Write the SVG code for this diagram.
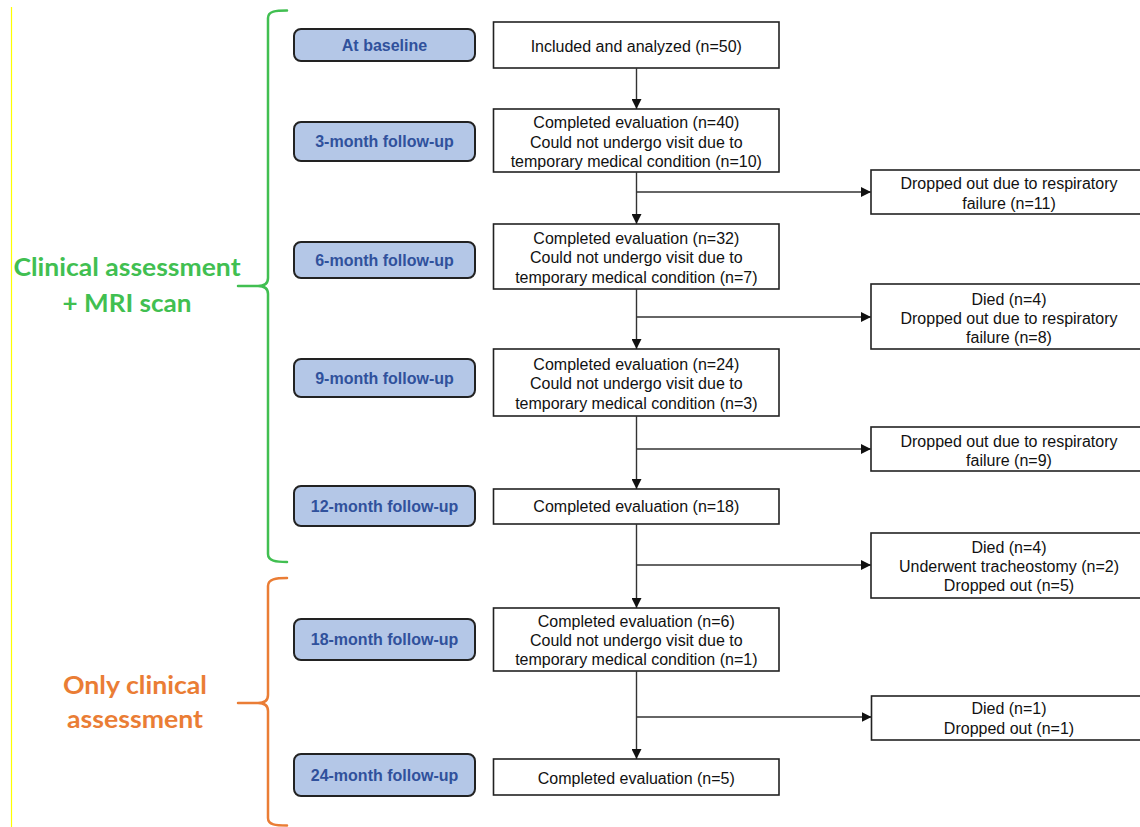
<svg xmlns="http://www.w3.org/2000/svg" width="1140" height="827" viewBox="0 0 1140 827">
<style>
.bg{fill:#ffffff}
.box{fill:#ffffff;stroke:#222;stroke-width:1.6}
.t{font-family:"Liberation Sans",Arial,sans-serif;font-size:16px;fill:#111;text-anchor:middle}
.pill{fill:#b4c7e7;stroke:#222;stroke-width:2}
.pt{font-family:"Liberation Sans",Arial,sans-serif;font-size:16px;font-weight:bold;fill:#30519c;text-anchor:middle}
.ln{stroke:#333;stroke-width:1.4;fill:none}
.brace{fill:none;stroke-width:2.5;stroke-linecap:round}
.lab{font-family:Lato,"Open Sans",sans-serif;font-weight:bold;font-size:25px;text-anchor:middle}
</style>
<defs>
<marker id="ah" viewBox="0 0 10 10" refX="10" refY="5" markerWidth="10" markerHeight="10" markerUnits="userSpaceOnUse" orient="auto">
<path d="M0,0 L10,5 L0,10 Z" fill="#111"/>
</marker>
</defs>
<rect class="bg" x="0" y="0" width="1140" height="827"/>
<line x1="11.5" y1="7" x2="11.5" y2="827" stroke="#ffff00" stroke-width="1.2"/>

<g id="brace-mri">
<path class="brace" stroke="#41bf51" d="M287,10.5 C276,10.5 268,11 268,18 L268,278 C268,284 264,286 258,286 L238,286 M258,286 C264,286 268,288 268,294 L268,554 C268,561 276,562 287,562"/>
<text class="lab" fill="#41bf51" x="127" y="276" textLength="227" lengthAdjust="spacingAndGlyphs">Clinical assessment</text>
<text class="lab" fill="#41bf51" x="127" y="312" textLength="129" lengthAdjust="spacingAndGlyphs">+ MRI scan</text>
</g>
<g id="brace-clin">
<path class="brace" stroke="#ea7d35" d="M287,578 C276,578 268,579 268,586 L268,695 C268,701 264,703 258,703 L238,703 M258,703 C264,703 268,705 268,711 L268,818 C268,825 276,825.5 287,825.5"/>
<text class="lab" fill="#ea7d35" x="135" y="694" textLength="144" lengthAdjust="spacingAndGlyphs">Only clinical</text>
<text class="lab" fill="#ea7d35" x="135" y="728" textLength="136" lengthAdjust="spacingAndGlyphs">assessment</text>
</g>

<g id="tp-baseline"><rect class="pill" x="294" y="29" width="181" height="32" rx="7"/><text class="pt" x="384.5" y="51">At baseline</text></g>
<g id="tp-3"><rect class="pill" x="294" y="122" width="181" height="39" rx="7"/><text class="pt" x="384.5" y="147">3-month follow-up</text></g>
<g id="tp-6"><rect class="pill" x="294" y="242" width="181" height="36" rx="7"/><text class="pt" x="384.5" y="266">6-month follow-up</text></g>
<g id="tp-9"><rect class="pill" x="294" y="359" width="181" height="38" rx="7"/><text class="pt" x="384.5" y="384">9-month follow-up</text></g>
<g id="tp-12"><rect class="pill" x="294" y="486" width="181" height="40" rx="7"/><text class="pt" x="384.5" y="512">12-month follow-up</text></g>
<g id="tp-18"><rect class="pill" x="294" y="619" width="181" height="41" rx="7"/><text class="pt" x="384.5" y="645">18-month follow-up</text></g>
<g id="tp-24"><rect class="pill" x="294" y="754" width="181" height="42" rx="7"/><text class="pt" x="384.5" y="781">24-month follow-up</text></g>

<g id="n-baseline"><rect class="box" x="493.5" y="22" width="285.5" height="46"/><text class="t" x="636.3" y="51.5">Included and analyzed (n=50)</text></g>
<g id="n-3"><rect class="box" x="493.5" y="109" width="285.5" height="63"/>
<text class="t" x="636.3" y="128">Completed evaluation (n=40)</text>
<text class="t" x="636.3" y="147.5">Could not undergo visit due to</text>
<text class="t" x="636.3" y="167">temporary medical condition (n=10)</text></g>
<g id="n-6"><rect class="box" x="493.5" y="224" width="285.5" height="65"/>
<text class="t" x="636.3" y="243.5">Completed evaluation (n=32)</text>
<text class="t" x="636.3" y="263">Could not undergo visit due to</text>
<text class="t" x="636.3" y="282.5">temporary medical condition (n=7)</text></g>
<g id="n-9"><rect class="box" x="493.5" y="349" width="285.5" height="67"/>
<text class="t" x="636.3" y="369.5">Completed evaluation (n=24)</text>
<text class="t" x="636.3" y="389">Could not undergo visit due to</text>
<text class="t" x="636.3" y="408.5">temporary medical condition (n=3)</text></g>
<g id="n-12"><rect class="box" x="493.5" y="489" width="285.5" height="35"/>
<text class="t" x="636.3" y="511.5">Completed evaluation (n=18)</text></g>
<g id="n-18"><rect class="box" x="493.5" y="608" width="285.5" height="63"/>
<text class="t" x="636.3" y="626.5">Completed evaluation (n=6)</text>
<text class="t" x="636.3" y="646">Could not undergo visit due to</text>
<text class="t" x="636.3" y="665">temporary medical condition (n=1)</text></g>
<g id="n-24"><rect class="box" x="493.5" y="759" width="285.5" height="36"/>
<text class="t" x="636.3" y="783.5">Completed evaluation (n=5)</text></g>

<g id="x-3"><rect class="box" x="871" y="170" width="280" height="44"/>
<text class="t" x="1009" y="188.5">Dropped out due to respiratory</text>
<text class="t" x="1009" y="208.5">failure (n=11)</text></g>
<g id="x-6"><rect class="box" x="871" y="284" width="280" height="65"/>
<text class="t" x="1009" y="304.5">Died (n=4)</text>
<text class="t" x="1009" y="323.5">Dropped out due to respiratory</text>
<text class="t" x="1009" y="342.5">failure (n=8)</text></g>
<g id="x-9"><rect class="box" x="871" y="427" width="280" height="44"/>
<text class="t" x="1009" y="446.5">Dropped out due to respiratory</text>
<text class="t" x="1009" y="465.5">failure (n=9)</text></g>
<g id="x-12"><rect class="box" x="871" y="533" width="280" height="65"/>
<text class="t" x="1009" y="552.5">Died (n=4)</text>
<text class="t" x="1009" y="571.5">Underwent tracheostomy (n=2)</text>
<text class="t" x="1009" y="590.5">Dropped out (n=5)</text></g>
<g id="x-18"><rect class="box" x="871.5" y="696" width="280" height="44"/>
<text class="t" x="1009" y="713.5">Died (n=1)</text>
<text class="t" x="1009" y="733.5">Dropped out (n=1)</text></g>

<g id="connectors">
<line class="ln" x1="636.5" y1="68" x2="636.5" y2="109" marker-end="url(#ah)"/>
<line class="ln" x1="636.5" y1="172" x2="636.5" y2="224" marker-end="url(#ah)"/>
<line class="ln" x1="636.5" y1="192" x2="871" y2="192" marker-end="url(#ah)"/>
<line class="ln" x1="636.5" y1="289" x2="636.5" y2="349" marker-end="url(#ah)"/>
<line class="ln" x1="636.5" y1="317" x2="871" y2="317" marker-end="url(#ah)"/>
<line class="ln" x1="636.5" y1="416" x2="636.5" y2="489" marker-end="url(#ah)"/>
<line class="ln" x1="636.5" y1="449" x2="871" y2="449" marker-end="url(#ah)"/>
<line class="ln" x1="636.5" y1="524" x2="636.5" y2="608" marker-end="url(#ah)"/>
<line class="ln" x1="636.5" y1="565" x2="871" y2="565" marker-end="url(#ah)"/>
<line class="ln" x1="636.5" y1="671" x2="636.5" y2="759" marker-end="url(#ah)"/>
<line class="ln" x1="636.5" y1="717" x2="871.5" y2="717" marker-end="url(#ah)"/>
</g>
</svg>
